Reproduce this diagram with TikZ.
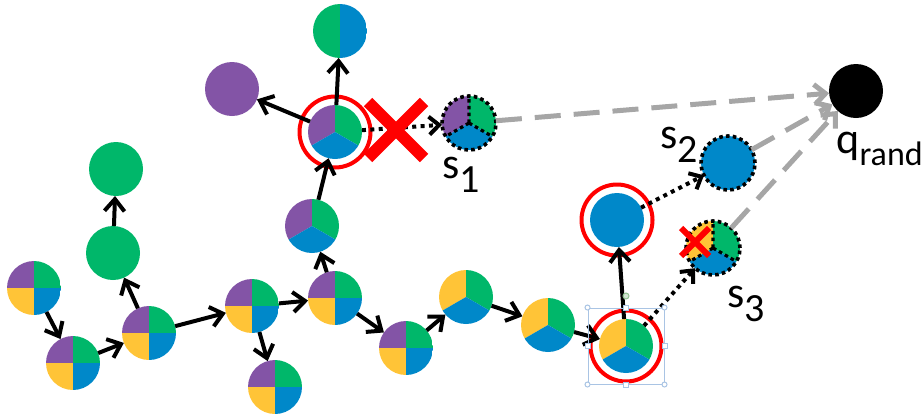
\documentclass[tikz,border=0pt]{standalone}
\usepackage{fontspec}
\setmainfont{Carlito}
\usepackage{tikz}
\usetikzlibrary{arrows.meta}
\usetikzlibrary{shapes.misc}
\usetikzlibrary{positioning}
\usepackage{xcolor}
\definecolor{cpurple}{RGB}{131,84,166}
\definecolor{cgreen}{RGB}{0,183,106}
\definecolor{cblue}{RGB}{0,136,201}
\definecolor{cyellow}{RGB}{255,196,55}
\definecolor{cred}{RGB}{255,0,0}
\definecolor{cgray}{RGB}{166,166,166}
\definecolor{selblue}{RGB}{169,196,228}
\definecolor{selgreen}{RGB}{143,191,143}

\newcommand{\quadfill}{%
    \fill[cpurple] (path picture bounding box.center) rectangle (path picture bounding box.north west);
    \fill[cgreen] (path picture bounding box.center) rectangle (path picture bounding box.north east);
    \fill[cyellow] (path picture bounding box.center) rectangle (path picture bounding box.south west);
    \fill[cblue] (path picture bounding box.center) rectangle (path picture bounding box.south east);}
\newcommand{\trifill}[1]{%
    \coordinate (pc) at (path picture bounding box.center);
    \fill[#1] (pc) -- ([shift={(90:20pt)}]pc) -- ([shift={(150:20pt)}]pc) -- ([shift={(210:20pt)}]pc) -- cycle;
    \fill[cgreen] (pc) -- ([shift={(90:20pt)}]pc) -- ([shift={(30:20pt)}]pc) -- ([shift={(-30:20pt)}]pc) -- cycle;
    \fill[cblue] (pc) -- ([shift={(210:20pt)}]pc) -- ([shift={(270:20pt)}]pc) -- ([shift={(330:20pt)}]pc) -- cycle;}
\newcommand{\halffill}{%
    \fill[cgreen] (path picture bounding box.south west) rectangle (path picture bounding box.north);
    \fill[cblue] (path picture bounding box.south) rectangle (path picture bounding box.north east);}
\newcommand{\lowsub}[2]{\raisebox{-#1}{\fontsize{20}{20}\selectfont #2}}

\tikzset{
    node_base/.style={circle, minimum size=27pt, inner sep=0pt, outer sep=0pt},
    node_quad/.style={node_base, path picture={\quadfill}},
    node_tri/.style={node_base, path picture={\trifill{#1}}},
    node_half/.style={node_base, path picture={\halffill}},
    node_full/.style={node_base, fill=#1},
    node_new/.style={draw=black, line width=1.8pt, dash pattern=on 1.8pt off 1.6pt},
    ring/.style={circle, draw=cred, line width=2pt, minimum size=35.5pt, inner sep=0pt},
    edge_tree/.style={line width=2pt, -{Straight Barb[length=6pt,width=10pt]}},
    edge_try/.style={line width=2pt, dash pattern=on 2pt off 2.2pt, -{Straight Barb[length=5pt,width=9pt]}},
    edge_goal/.style={draw=cgray, line width=2.5pt, dash pattern=on 13pt off 6.5pt, -{Straight Barb[length=5.5pt,width=10pt]}},
    sector_dots/.style={line width=1.6pt, dash pattern=on 1.8pt off 1.6pt},
    blocked/.style={cross out, draw=cred, line width=#1, inner sep=0pt},
    lbl/.style={font=\fontsize{22}{22}\selectfont, inner sep=0pt, anchor=base west},
    selbox/.style={draw=selblue, line width=0.5pt, minimum size=38pt, inner sep=0pt},
    handle_dot/.style={circle, draw=selblue, fill=white, line width=0.5pt, minimum size=2.5pt, inner sep=0pt},
    handle_sq/.style={rectangle, draw=selblue, fill=white, line width=0.5pt, minimum size=2.5pt, inner sep=0pt},
    handle_rot/.style={circle, draw=selgreen, fill=selgreen!40, line width=0.5pt, minimum size=3pt, inner sep=0pt}
}

\begin{document}
\begin{tikzpicture}[x=0.5pt, y=-0.5pt]
    \useasboundingbox (0,0) rectangle (924,418);

    % rings behind the tree
    \node[ring] (n10_ring) at (335,132) {};
    \node[ring] (n16_ring) at (626,346) {};
    \node[ring] (n17_ring) at (617,220) {};

    % tree
    \node[node_quad] (n1) at (34,288) {};
    \node[node_quad] (n2) at (73,363) {};
    \node[node_quad] (n3) at (149,333) {};
    \node[node_full=cgreen] (n4) at (113,253) {};
    \node[node_full=cgreen] (n5) at (116,169) {};
    \node[node_quad] (n6) at (252,306) {};
    \node[node_quad] (n7) at (275,387) {};
    \node[node_quad] (n8) at (335,298) {};
    \node[node_tri=cpurple] (n9) at (312,226) {};
    \node[node_tri=cpurple] (n10) at (335,132) {};
    \node[node_half] (n11) at (340,31) {};
    \node[node_full=cpurple] (n12) at (232,89) {};
    \node[node_quad] (n13) at (406,348) {};
    \node[node_tri=cyellow] (n14) at (466,297) {};
    \node[node_tri=cyellow] (n15) at (548,325) {};
    \node[node_tri=cyellow] (n16) at (626,346) {};
    \node[node_full=cblue] (n17) at (617,220) {};

    % new states and goal
    \node[node_tri=cpurple, node_new] (s1) at (469,123) {};
    \node[node_full=cblue, node_new] (s2) at (728,163) {};
    \node[node_tri=cyellow, node_new] (s3) at (713,248) {};
    \node[node_full=black] (qrand) at (856,91) {};
    \foreach \s in {s1, s3}
        \draw[sector_dots] (\s.center) -- (\s.90) (\s.center) -- (\s.-30) (\s.center) -- (\s.210);

    \node[lbl] (s1_lbl) at (442,178) {s\lowsub{7pt}{1}};
    \node[lbl] (s2_lbl) at (660,148) {s\lowsub{7pt}{2}};
    \node[lbl] (s3_lbl) at (727,307) {s\lowsub{7pt}{3}};
    \node[lbl] (qrand_lbl) at (836,153) {q\raisebox{-6pt}{\fontsize{17}{17}\selectfont rand}};

    \foreach \a/\b in {n1/n2, n2/n3, n3/n4, n4/n5, n3/n6, n6/n7, n6/n8, n8/n9, n9/n10,
                       n10/n11, n10/n12, n8/n13, n13/n14, n14/n15, n15/n16, n16/n17}
        \draw[edge_tree] (\a) -- (\b);

    \draw[edge_try] (n10) -- (s1);
    \draw[edge_try] (n17) -- (s2);
    \draw[edge_try] (n16) -- (s3);

    \foreach \s in {s1, s2, s3}
        \draw[edge_goal] (\s) -- (qrand);

    \node[blocked=6pt, minimum size=22pt] (cut1) at (396,130) {};
    \node[blocked=3pt, minimum size=11pt] (cut3) at (695,242) {};

    % selection frame
    \node[selbox] (sel) at (n16) {};
    \foreach \a in {north west, north east, south west, south east}
        \node[handle_dot] at (sel.\a) {};
    \foreach \a in {north, south, east, west}
        \node[handle_sq] at (sel.\a) {};
    \node[handle_rot] (rot) at (626,296) {};
\end{tikzpicture}
\end{document}
